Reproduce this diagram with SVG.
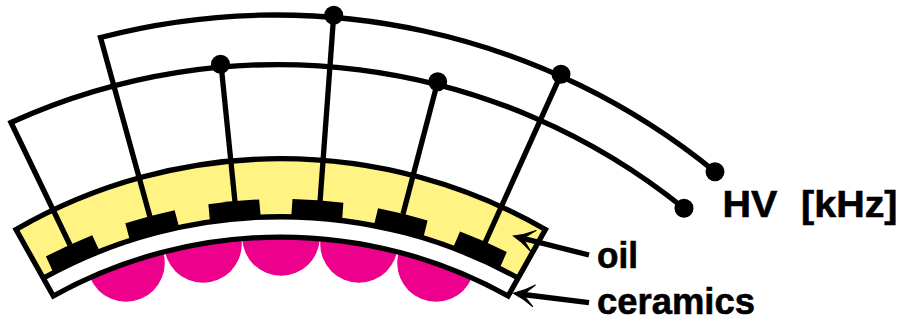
<svg xmlns="http://www.w3.org/2000/svg" width="902" height="322" viewBox="0 0 902 322">
<style>
.w{fill:none;stroke:#000;stroke-width:5.3;stroke-linejoin:miter;stroke-miterlimit:10}
.d{fill:#000}
.p{fill:#ec008c}
.t{font-family:"Liberation Sans",Arial,sans-serif;font-weight:700;fill:#000;stroke:#000;stroke-width:0.6;font-size:37px}
</style>
<defs>
<marker id="ah" markerUnits="userSpaceOnUse" markerWidth="30" markerHeight="30" viewBox="-22 -15 30 30" refX="-10" refY="0" orient="auto">
<path d="M0,0 Q-11,-4 -21,-11 Q-15,-5 -10,0 Q-15,5 -21,11 Q-11,4 0,0Z" fill="#000" stroke="#000" stroke-width="1"/>
</marker>
<path id="pad" d="M255.2,218 L255.2,199.6 A509,509 0 0 1 306.2,199.6 L306.2,218Z" fill="#000"/>
</defs>
<g id="electrodes-pink">
<circle class="p" cx="126" cy="263" r="38.8"/>
<circle class="p" cx="203" cy="244" r="38.8"/>
<circle class="p" cx="281" cy="237" r="38.8"/>
<circle class="p" cx="359" cy="244" r="38.8"/>
<circle class="p" cx="436" cy="263" r="38.8"/>
</g>
<g id="ceramics">
<path d="M43.5,278 A490,490 0 0 1 518,278 L508.1,296 A468,468 0 0 0 53.3,296Z" fill="#fff"/>
</g>
<g id="oil">
<path d="M16,229.5 A530,530 0 0 1 545.4,229.5 L518,278 A490,490 0 0 0 43.5,278Z" fill="#fff384"/>
</g>
<g id="pads">
<use href="#pad" transform="rotate(-24.6 280.7 708)"/>
<use href="#pad" transform="rotate(-14.9 280.7 708)"/>
<use href="#pad" transform="rotate(-5.3 280.7 708)"/>
<use href="#pad" transform="rotate(4.2 280.7 708)"/>
<use href="#pad" transform="rotate(13.9 280.7 708)"/>
<use href="#pad" transform="rotate(23.5 280.7 708)"/>
</g>
<g id="outline">
<path class="w" d="M16,229.5 A530,530 0 0 1 545.4,229.5 L508.1,296 A468,468 0 0 0 53.3,296Z"/>
<path class="w" d="M43.5,278 A490,490 0 0 1 518,278"/>
</g>
<g id="connectors">
<path class="w" d="M684,208.3 A645,645 0 0 0 11,122.5 L70,245"/>
<path class="w" d="M715,171.7 A694,694 0 0 0 100.5,37.5 L150,217"/>
<path class="w" d="M221,64 L235,202"/>
<path class="w" d="M333.7,15.3 L320,202"/>
<path class="w" d="M437.7,81.7 L403,214"/>
<path class="w" d="M561,74.3 L484,245"/>
<path class="w" d="M589,255 L523,238.4" marker-end="url(#ah)"/>
<path class="w" d="M589,302.7 L523.3,294.5" marker-end="url(#ah)"/>
</g>
<g id="dots">
<circle class="d" cx="220.5" cy="64.3" r="9.5"/>
<circle class="d" cx="333.7" cy="15.3" r="9.5"/>
<circle class="d" cx="437.7" cy="81.7" r="9.5"/>
<circle class="d" cx="561" cy="74.3" r="9.5"/>
<circle class="d" cx="715" cy="171.7" r="9.5"/>
<circle class="d" cx="684" cy="208.3" r="9.5"/>
</g>
<g id="labels">
<text class="t" x="722.5" y="216.7" word-spacing="12" textLength="175" lengthAdjust="spacingAndGlyphs">HV [kHz]</text>
<text class="t" x="597" y="268.3" textLength="41" lengthAdjust="spacingAndGlyphs">oil</text>
<text class="t" x="597" y="314.2" textLength="158" lengthAdjust="spacingAndGlyphs">ceramics</text>
</g>
</svg>
